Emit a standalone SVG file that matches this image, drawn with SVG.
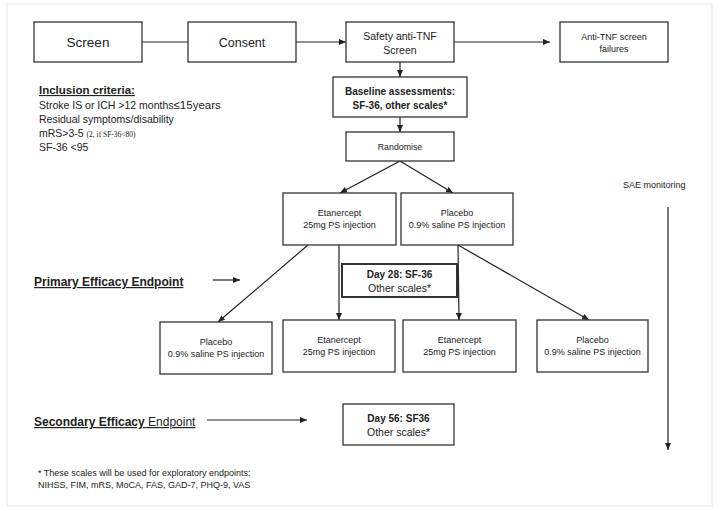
<svg xmlns="http://www.w3.org/2000/svg" width="721" height="511" viewBox="0 0 721 511">
<defs>
<marker id="ah" markerUnits="userSpaceOnUse" markerWidth="7" markerHeight="6" refX="7" refY="3" orient="auto">
<path d="M0,0 L7,3 L0,6 z" fill="#222"/>
</marker>
<style>
.box{fill:#fff;stroke:#333;stroke-width:1.3}
.thick{stroke-width:2}
text{font-family:"Liberation Sans",Arial,sans-serif;fill:#222}
.c{text-anchor:middle}
.b{font-weight:bold}
.ln{stroke:#222;stroke-width:1.2;fill:none}
.arr{marker-end:url(#ah)}
.s9{font-size:9px}
.s10{font-size:10px}
.s105{font-size:10.5px}
.u{text-decoration:underline}
</style>
</defs>
<rect x="0" y="0" width="721" height="511" fill="#fff"/>
<rect x="7" y="4" width="705" height="502" fill="none" stroke="#eee" stroke-width="1.5"/>

<g id="connectors">
<line class="ln" x1="142" y1="42" x2="188" y2="42"/>
<line class="ln arr" x1="296" y1="42" x2="346" y2="42"/>
<line class="ln arr" x1="454" y1="42" x2="550" y2="42"/>
<line class="ln arr" x1="400" y1="62" x2="400" y2="77"/>
<line class="ln arr" x1="400" y1="117" x2="400" y2="132"/>
<line class="ln arr" x1="400" y1="161" x2="340" y2="193"/>
<line class="ln arr" x1="400" y1="161" x2="453" y2="193"/>
<line class="ln arr" x1="308" y1="245" x2="218" y2="322"/>
<line class="ln arr" x1="339" y1="245" x2="339" y2="320"/>
<line class="ln arr" x1="458" y1="245" x2="459" y2="320"/>
<line class="ln arr" x1="458" y1="245" x2="589" y2="320"/>
<line class="ln arr" x1="213" y1="280" x2="240" y2="280"/>
<line class="ln arr" x1="207" y1="420" x2="307" y2="420"/>
<line class="ln arr" x1="668" y1="207" x2="668" y2="450"/>
</g>

<g id="screen">
<rect class="box" x="34" y="22" width="108" height="40"/>
<text class="c" x="88" y="47" font-size="13.5">Screen</text>
</g>
<g id="consent">
<rect class="box" x="188" y="22" width="108" height="40"/>
<text class="c" x="242" y="47" font-size="12.5">Consent</text>
</g>
<g id="safety">
<rect class="box" x="346" y="22" width="108" height="40"/>
<text class="c s105" x="400" y="40">Safety anti-TNF</text>
<text class="c s105" x="400" y="54">Screen</text>
</g>
<g id="failures">
<rect class="box" x="560" y="22" width="108" height="40"/>
<text class="c s9" x="614" y="40">Anti-TNF screen</text>
<text class="c s9" x="614" y="52">failures</text>
</g>
<g id="baseline">
<rect class="box" x="333" y="77" width="134" height="40"/>
<text class="c b s10" x="400" y="95">Baseline assessments:</text>
<text class="c b s10" x="400" y="109">SF-36, other scales*</text>
</g>
<g id="randomise">
<rect class="box" x="346" y="132" width="108" height="29"/>
<text class="c" x="400" y="150" font-size="8.8">Randomise</text>
</g>
<g id="etanercept1">
<rect class="box" x="283" y="193" width="113" height="52"/>
<text class="c s9" x="339.5" y="216">Etanercept</text>
<text class="c s9" x="339.5" y="228">25mg PS injection</text>
</g>
<g id="placebo1">
<rect class="box" x="401" y="193" width="112" height="52"/>
<text class="c s9" x="457" y="216">Placebo</text>
<text class="c s9" x="457" y="228">0.9% saline PS injection</text>
</g>
<g id="day28">
<rect class="box thick" x="342" y="264" width="115" height="33"/>
<text class="c b s10" x="399.5" y="278">Day 28: SF-36</text>
<text class="c s105" x="399.5" y="292">Other scales*</text>
</g>
<g id="placebo2">
<rect class="box" x="160" y="322" width="112" height="52"/>
<text class="c s9" x="216" y="345">Placebo</text>
<text class="c s9" x="216" y="357">0.9% saline PS injection</text>
</g>
<g id="etanercept2">
<rect class="box" x="283" y="320" width="112" height="52"/>
<text class="c s9" x="339" y="343">Etanercept</text>
<text class="c s9" x="339" y="355">25mg PS injection</text>
</g>
<g id="etanercept3">
<rect class="box" x="403" y="320" width="113" height="52"/>
<text class="c s9" x="459.5" y="343">Etanercept</text>
<text class="c s9" x="459.5" y="355">25mg PS injection</text>
</g>
<g id="placebo3">
<rect class="box" x="537" y="320" width="111" height="52"/>
<text class="c s9" x="592.5" y="343">Placebo</text>
<text class="c s9" x="592.5" y="355">0.9% saline PS injection</text>
</g>
<g id="day56">
<rect class="box" x="343" y="404" width="111" height="41"/>
<text class="c b s10" x="398.5" y="422">Day 56: SF36</text>
<text class="c s105" x="398.5" y="436">Other scales*</text>
</g>

<g id="inclusion">
<text class="b u" x="39" y="94" font-size="11.5">Inclusion criteria:</text>
<text class="s105" x="39" y="109">Stroke IS or ICH &gt;12 months<tspan font-size="11.5">≤15years</tspan></text>
<text class="s105" x="39" y="123">Residual symptoms/disability</text>
<text class="s105" x="39" y="137">mRS&gt;3-5 <tspan font-family="Liberation Serif,serif" font-size="7.5">(2, if SF-36&lt;80)</tspan></text>
<text class="s105" x="39" y="151">SF-36 &lt;95</text>
</g>
<g id="primary">
<text class="b u" x="34" y="286" font-size="12">Primary Efficacy Endpoint</text>
</g>
<g id="secondary">
<text class="u" x="34" y="426" font-size="12"><tspan font-weight="bold">Secondary Efficacy</tspan> Endpoint</text>
</g>
<g id="sae">
<text class="s9" x="623" y="188">SAE monitoring</text>
</g>
<g id="footnote">
<text class="s9" x="38" y="476">* These scales will be used for exploratory endpoints:</text>
<text class="s9" x="38" y="488">NIHSS, FIM, mRS, MoCA, FAS, GAD-7, PHQ-9, VAS</text>
</g>
</svg>
